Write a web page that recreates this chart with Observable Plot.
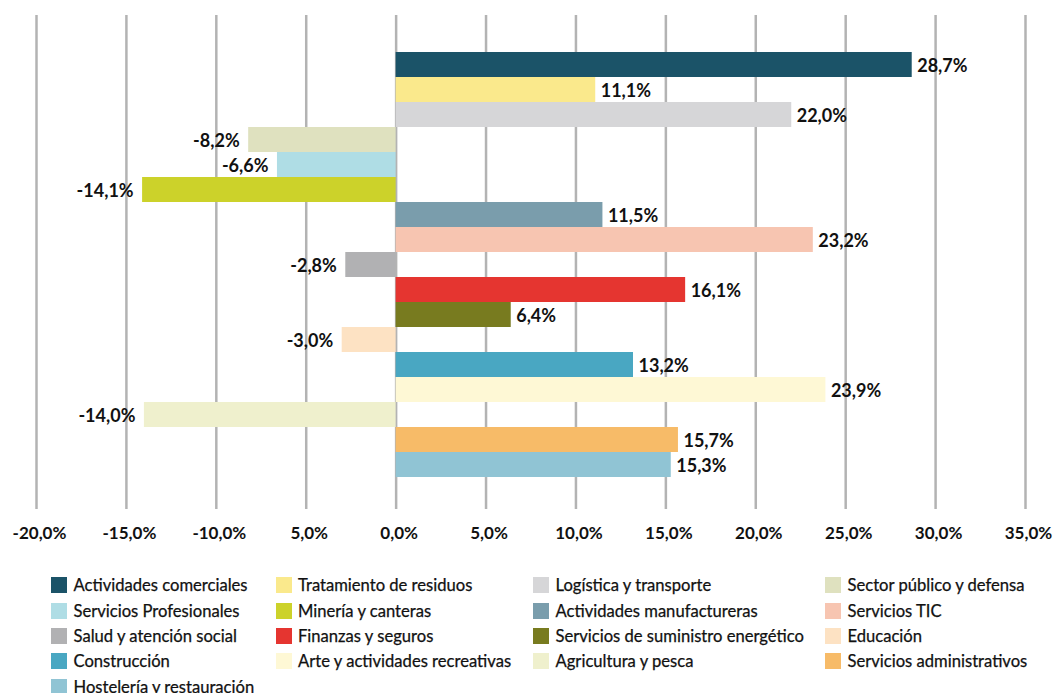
<!DOCTYPE html>
<html><head><meta charset="utf-8">
<script src="https://cdn.jsdelivr.net/npm/d3@7"></script>
<script src="https://cdn.jsdelivr.net/npm/@observablehq/plot@0.6"></script>
<style>
body{margin:0;background:#fff;font-family:Lato,"Noto Sans",sans-serif;}
#chart svg{display:block}
#legend{position:relative;width:1057px;height:133px;}
.item{position:absolute;display:flex;align-items:center;height:16px;font-size:16.6px;color:#111;white-space:nowrap;-webkit-text-stroke:0.25px #111}
.sw{width:16px;height:16px;margin-right:6.5px;flex:none}
</style></head><body><div id="chart"></div><div id="legend"></div>
<script>
const sectors = [
  "Actividades comerciales","Tratamiento de residuos","Logística y transporte","Sector público y defensa",
  "Servicios Profesionales","Minería y canteras","Actividades manufactureras","Servicios TIC",
  "Salud y atención social","Finanzas y seguros","Servicios de suministro energético","Educación",
  "Construcción","Arte y actividades recreativas","Agricultura y pesca","Servicios administrativos",
  "Hostelería y restauración"
];
const values = [28.7, 11.1, 22.0, -8.2, -6.6, -14.1, 11.5, 23.2, -2.8, 16.1, 6.4, -3.0, 13.2, 23.9, -14.0, 15.7, 15.3];
const colors = [
  "#1b5368","#fae98c","#d6d6d8","#dfe1bf",
  "#afdde5","#ccd22a","#7a9dac","#f7c5b1",
  "#b1b1b3","#e53530","#787b1f","#fde2c3",
  "#49a7c2","#fef8d5","#eff0cd","#f7bb68",
  "#90c4d4"
];
const tickValues = [-20, -15, -10, -5, 0, 5, 10, 15, 20, 25, 30, 35];
const tickLabels = ["-20,0%","-15,0%","-10,0%","5,0%","0,0%","5,0%","10,0%","15,0%","20,0%","25,0%","30,0%","35,0%"];

const fmt = v => v.toFixed(1).replace(".", ",") + "%";
const data = sectors.map((s, i) => ({sector: s, value: values[i]}));

const chart = Plot.plot({
  width: 1057, height: 560,
  marginLeft: 36, marginRight: 32, marginTop: 15, marginBottom: 51,
  style: {fontFamily: "Lato, 'Noto Sans', sans-serif", background: "#fff"},
  x: {domain: [-20, 35]},
  y: {domain: sectors, paddingInner: 0, paddingOuter: 1.376, align: 0.53, axis: null},
  color: {domain: sectors, range: colors},
  marks: [
    Plot.gridX(tickValues, {stroke: "#b3b3b3", strokeOpacity: 1, strokeWidth: 2.5}),
    Plot.barX(data, {x: "value", y: "sector", fill: "sector"}),
    Plot.text(data, {filter: d => d.value >= 0, x: "value", y: "sector", text: d => fmt(d.value),
      textAnchor: "start", dx: 5, dy: 1, fontSize: 18, fontWeight: 700, fill: "#111"}),
    Plot.text(data, {filter: d => d.value < 0, x: "value", y: "sector", text: d => fmt(d.value),
      textAnchor: "end", dx: -9, dy: 1, fontSize: 18, fontWeight: 700, fill: "#111"}),
    Plot.axisX(tickValues, {tickSize: 0, tickPadding: 17, dx: 3,
      tickFormat: d => tickLabels[tickValues.indexOf(d)],
      fontSize: 17, fontWeight: 700, fill: "#111", label: null})
  ]
});
document.getElementById("chart").appendChild(chart);

const colX = [51, 275.5, 533, 825];
const legend = document.getElementById("legend");
sectors.forEach((s, i) => {
  const r = Math.floor(i / 4), c = i % 4;
  const item = document.createElement("div");
  item.className = "item";
  item.style.left = colX[c] + "px";
  item.style.top = (17.3 + r * 25.3) + "px";
  const sw = document.createElement("span");
  sw.className = "sw";
  sw.style.background = colors[i];
  const t = document.createElement("span");
  t.textContent = s;
  item.appendChild(sw); item.appendChild(t);
  legend.appendChild(item);
});
</script>
</body></html>
